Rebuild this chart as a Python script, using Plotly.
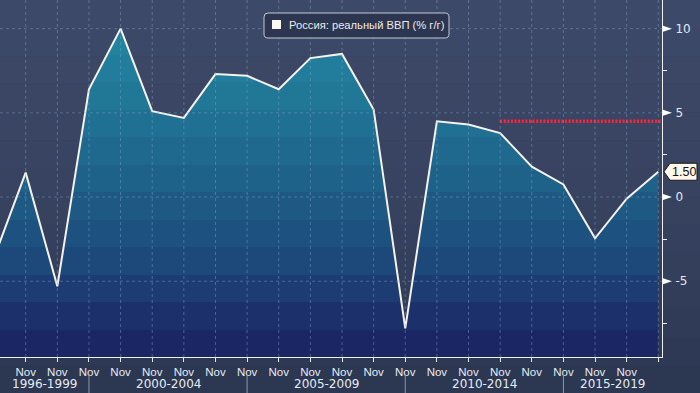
import plotly.graph_objects as go

# ---------------- data ----------------
years = list(range(1996, 2018))
gdp = [-3.6, 1.45, -5.3, 6.4, 10.0, 5.1, 4.7, 7.3, 7.2, 6.4, 8.25, 8.5,
       5.2, -7.8, 4.5, 4.3, 3.8, 1.8, 0.75, -2.45, -0.1, 1.5]
series_name = "Россия: реальный ВВП (% г/г)"

tick_years = list(range(1997, 2018))
tick_text = ["Nov"] * (len(tick_years) - 1) + [""]

group_labels = ["1996-1999", "2000-2004", "2005-2009", "2010-2014", "2015-2019"]
group_breaks = [1999, 2004, 2009, 2014]

target_start = [2012]
target_value = [4.5]

ytick_vals = [-5, 0, 5, 10]
ytick_text = ["-5", "0", "5", "10"]
yminor_vals = [-7.5, -2.5, 2.5, 7.5]

# ---------------- layout geometry ----------------
W, H = 700, 393
ML, MR, MT, MB = 0, 38, 0, 36
PW, PH = W - ML - MR, H - MT - MB
X0, X1 = 1996.1875, 2017.117
Y_MIN, Y_MAX = -9.5, 11.7


def pxx(px):
    return px / PW


def pxy(py):
    return 1 - py / PH


def dx2p(x):
    return (x - X0) / (X1 - X0)


def dy2p(y):
    return (y - Y_MIN) / (Y_MAX - Y_MIN)


def hex2rgb(h):
    h = h.lstrip("#")
    return tuple(int(h[i:i + 2], 16) for i in (0, 2, 4))


def interp(anchors, t):
    for (t0, c0), (t1, c1) in zip(anchors[:-1], anchors[1:]):
        if t0 <= t <= t1:
            f = (t - t0) / (t1 - t0) if t1 > t0 else 0
            a, b = hex2rgb(c0), hex2rgb(c1)
            return "rgb(%d,%d,%d)" % tuple(round(a[i] + (b[i] - a[i]) * f) for i in range(3))
    return anchors[-1][1]


# banded gradient for the area fill (0 = bottom, 1 = top)
fill_anchors = [(0.0, "#1b2360"), (0.12, "#1c306c"), (0.25, "#1d4679"),
                (0.45, "#1e5c86"), (0.65, "#1f7092"), (0.85, "#21819d"),
                (1.0, "#238ca5")]
NB = 13
fill_scale = []
for i in range(NB):
    c = interp(fill_anchors, (i + 0.5) / NB)
    fill_scale.append([i / NB, c])
    fill_scale.append([(i + 1) / NB, c])

fig = go.Figure()

# baseline for the area
fig.add_trace(go.Scatter(x=years, y=[Y_MIN] * len(years), mode="lines",
                         line=dict(width=0, color="rgba(0,0,0,0)"),
                         hoverinfo="skip", showlegend=False))
# area + line
fig.add_trace(go.Scatter(
    x=years, y=gdp, mode="lines", fill="tonexty",
    line=dict(color="#f6f2ec", width=2),
    fillgradient=dict(type="vertical", colorscale=fill_scale,
                      start=Y_MIN, stop=Y_MAX),
    showlegend=False, name=series_name))

# red dotted target line
fig.add_trace(go.Scatter(
    x=[target_start[0], X1], y=[target_value[0], target_value[0]],
    mode="lines", line=dict(color="#ff2338", width=3.5, dash="2px,1.6px"),
    showlegend=False, hoverinfo="skip"))

shapes = []
# background bands (whole canvas)
bg_anchors = [(0.0, "#2b3651"), (0.3, "#333f5b"), (1.0, "#3e4a69")]
NBG = 14
for i in range(NBG):
    t0 = i / NBG
    t1 = (i + 1) / NBG
    y0p = pxy(H - MT - t0 * H)
    y1p = pxy(H - MT - t1 * H)
    shapes.append(dict(type="rect", xref="paper", yref="paper",
                       x0=pxx(-1), x1=pxx(W + 1), y0=y0p, y1=y1p,
                       fillcolor=interp(bg_anchors, (t0 + t1) / 2),
                       line=dict(width=0), layer="below"))

grid_col = "rgba(130,165,200,0.45)"
for yv in ytick_vals:
    shapes.append(dict(type="line", xref="x", yref="y", x0=X0, x1=X1, y0=yv, y1=yv,
                       line=dict(color=grid_col, width=1, dash="3px,3px"), layer="above"))
for xv in tick_years:
    shapes.append(dict(type="line", xref="x", yref="y", x0=xv, x1=xv, y0=Y_MIN, y1=Y_MAX,
                       line=dict(color=grid_col, width=1, dash="3px,3px"), layer="above"))

# y tick triangles
for yv in ytick_vals:
    yc = dy2p(yv)
    hh = 3 / PH
    shapes.append(dict(type="path", xref="paper", yref="paper",
                       path="M %f,%f L %f,%f L %f,%f Z" % (pxx(PW + 1), yc + hh,
                                                          pxx(PW + 10), yc,
                                                          pxx(PW + 1), yc - hh),
                       fillcolor="#ffffff", line=dict(width=0), layer="above"))

# group separators
for b in group_breaks:
    xp = dx2p(b)
    shapes.append(dict(type="line", xref="paper", yref="paper", x0=xp, x1=xp,
                       y0=pxy(374), y1=pxy(H + 2),
                       line=dict(color="#8e97a8", width=1)))

# legend box
lx0, ly0, lx1, ly1, r = 264, 13, 449, 38, 4
path = ("M %f,%f L %f,%f Q %f,%f %f,%f L %f,%f Q %f,%f %f,%f L %f,%f Q %f,%f %f,%f "
        "L %f,%f Q %f,%f %f,%f Z") % (
    pxx(lx0 + r), pxy(ly0), pxx(lx1 - r), pxy(ly0), pxx(lx1), pxy(ly0), pxx(lx1), pxy(ly0 + r),
    pxx(lx1), pxy(ly1 - r), pxx(lx1), pxy(ly1), pxx(lx1 - r), pxy(ly1),
    pxx(lx0 + r), pxy(ly1), pxx(lx0), pxy(ly1), pxx(lx0), pxy(ly1 - r),
    pxx(lx0), pxy(ly0 + r), pxx(lx0), pxy(ly0), pxx(lx0 + r), pxy(ly0))
shapes.append(dict(type="path", xref="paper", yref="paper", path=path,
                   fillcolor="#2c3651", line=dict(color="#c4c8d0", width=1), layer="above"))
shapes.append(dict(type="rect", xref="paper", yref="paper",
                   x0=pxx(272), x1=pxx(281), y0=pxy(29), y1=pxy(20),
                   fillcolor="#fbf7f2", line=dict(width=0), layer="above"))

# last value tag
last = gdp[-1]
yc = dy2p(last)
hh = 8.5 / PH
tag = "M %f,%f L %f,%f L %f,%f L %f,%f L %f,%f Z" % (
    pxx(PW + 2), yc, pxx(PW + 8), yc + hh, pxx(PW + 35), yc + hh,
    pxx(PW + 35), yc - hh, pxx(PW + 8), yc - hh)
shapes.append(dict(type="path", xref="paper", yref="paper", path=tag,
                   fillcolor="#fff7ea", line=dict(color="#1a1a1a", width=1), layer="above"))

annotations = []
annotations.append(dict(xref="paper", yref="paper", x=pxx(287), y=pxy(25.5),
                        xanchor="left", yanchor="middle", showarrow=False,
                        text=series_name,
                        font=dict(family="Liberation Sans", size=11.2, color="#eceae6")))
annotations.append(dict(xref="paper", yref="paper", x=pxx(PW + 22), y=yc,
                        xanchor="center", yanchor="middle", showarrow=False,
                        text="%.2f" % last,
                        font=dict(family="Liberation Sans", size=12.5, color="#111111")))
bounds = [X0] + group_breaks + [X1]
for lab, a, b in zip(group_labels, bounds[:-1], bounds[1:]):
    annotations.append(dict(xref="paper", yref="paper", x=dx2p((a + b) / 2), y=pxy(384),
                            xanchor="center", yanchor="middle", showarrow=False,
                            text=lab,
                            font=dict(family="DejaVu Sans", size=12, color="#e6ecf3")))

fig.update_layout(
    width=W, height=H,
    margin=dict(l=ML, r=MR, t=MT, b=MB, pad=0),
    paper_bgcolor="#333f5a", plot_bgcolor="rgba(0,0,0,0)",
    showlegend=False, hovermode=False,
    shapes=shapes, annotations=annotations,
    xaxis=dict(range=[X0, X1], tickmode="array", tickvals=tick_years, ticktext=tick_text,
               showgrid=False, zeroline=False, showline=True, linecolor="#f0f0f0", linewidth=1,
               ticks="outside", ticklen=4, tickcolor="#e8e8e8", tickwidth=1,
               tickfont=dict(family="Liberation Sans", size=11.5, color="#e6ecf3")),
    yaxis=dict(range=[Y_MIN, Y_MAX], side="right", tickmode="array",
               tickvals=ytick_vals, ticktext=ytick_text,
               showgrid=False, zeroline=False, showline=True, linecolor="#f0f0f0", linewidth=1,
               ticks="outside", ticklen=10, tickcolor="rgba(0,0,0,0)",
               minor=dict(tickmode="array", tickvals=yminor_vals, ticks="outside",
                          ticklen=4, tickcolor="#f0f0f0", showgrid=False),
               tickfont=dict(family="DejaVu Sans", size=12, color="#e0e8f0")),
)

fig.write_html("out.html", config={"displayModeBar": False, "staticPlot": True},
               post_script="document.body.style.margin='0';document.body.style.overflow='hidden';")
